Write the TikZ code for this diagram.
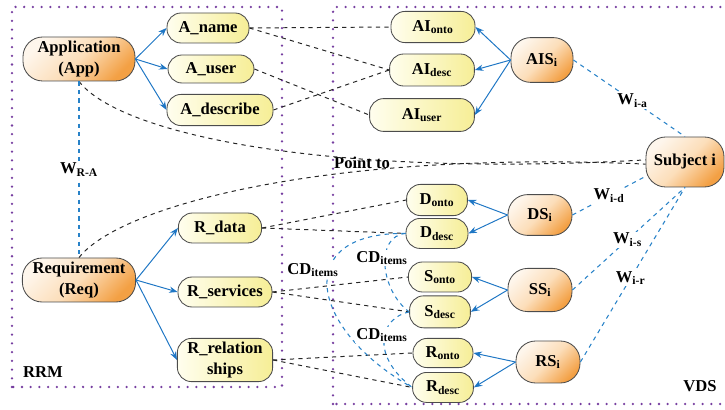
\documentclass[tikz,border=0pt]{standalone}
\usepackage{fontspec}
\setmainfont{Liberation Serif}
\usepackage{xcolor}
\usepackage{tikz}
\usetikzlibrary{positioning, arrows.meta}

\definecolor{orLight}{RGB}{254,246,236}
\definecolor{orMid}{RGB}{252,222,186}
\definecolor{orDark}{RGB}{243,160,68}
\definecolor{ylLight}{RGB}{255,254,238}
\definecolor{ylDark}{RGB}{246,238,150}
\definecolor{arrowBlue}{RGB}{30,118,196}
\definecolor{linkBlue}{RGB}{40,130,200}
\definecolor{dotPurple}{RGB}{118,62,160}

\begin{document}
\begin{tikzpicture}[
  font=\bfseries\fontsize{11.8}{15.5}\selectfont,
  base/.style={draw=black!70, line width=0.6pt, align=center, inner sep=1pt},
  orbox/.style={base, rounded corners=14pt, top color=orLight, bottom color=orDark, middle color=orMid, shading angle=45},
  ylbox/.style={base, rounded corners=10pt, left color=ylLight, right color=ylDark, minimum height=0.75cm},
  arrow/.style={-{Stealth[length=6pt]}, draw=arrowBlue, line width=0.7pt},
  link/.style={dashed, line width=0.7pt, black!85},
  wlink/.style={dashed, line width=0.75pt, linkBlue},
  lbl/.style={fill=white, inner sep=1pt, text=black},
  area/.style={draw=dotPurple, line width=1.8pt, line cap=round, dash pattern=on 0pt off 6.2pt}
]
\useasboundingbox (0,0) rectangle (18.125,10.25);
\draw[area] (0.3,0.575) rectangle (7.05,10.075);
\draw[area] (8.325,0.15) rectangle (18.6,10.075);
\node (rrm) at (1.075,0.95) {RRM};
\node (vds) at (17.5,0.6) {VDS};

% RRM side
\node[orbox, minimum width=2.8cm, minimum height=1.1cm] (app) at (1.975,8.775) {Application\\(App)};
\node[orbox, minimum width=2.83cm, minimum height=1.1cm] (req) at (1.975,3.25) {Requirement\\(Req)};
\node[ylbox, minimum width=2.05cm] (aname) at (5.2,9.55) {A\_name};
\node[ylbox, minimum width=2.15cm, minimum height=0.7cm] (auser) at (5.275,8.525) {A\_user};
\node[ylbox, minimum width=2.65cm, minimum height=0.78cm] (adesc) at (5.5,7.5) {A\_describe};
\node[ylbox, minimum width=2.08cm] (rdata) at (5.5,4.55) {R\_data};
\node[ylbox, minimum width=2.35cm] (rserv) at (5.625,2.95) {R\_services};
\node[ylbox, minimum width=2.38cm, minimum height=1.08cm] (rrel) at (5.625,1.25) {R\_relation\\ships};

% VDS side
\node[ylbox, minimum width=2.1cm, minimum height=0.78cm] (aionto) at (10.825,9.575) {AI\textsubscript{onto}};
\node[ylbox, minimum width=2.12cm, minimum height=0.8cm] (aidesc) at (10.8,8.5) {AI\textsubscript{desc}};
\node[ylbox, minimum width=2.62cm, minimum height=0.82cm] (aiuser) at (10.55,7.375) {AI\textsubscript{user}};
\node[ylbox, minimum width=1.52cm, minimum height=0.78cm] (donto) at (10.925,5.25) {D\textsubscript{onto}};
\node[ylbox, minimum width=1.55cm, below=0.05cm of donto] (ddesc) {D\textsubscript{desc}};
\node[ylbox, minimum width=1.58cm] (sonto) at (11.0,3.325) {S\textsubscript{onto}};
\node[ylbox, minimum width=1.52cm, minimum height=0.8cm, below=0.075cm of sonto] (sdesc) {S\textsubscript{desc}};
\node[ylbox, minimum width=1.5cm, minimum height=0.73cm] (ronto) at (11.075,1.425) {R\textsubscript{onto}};
\node[ylbox, minimum width=1.52cm, below=0.1cm of ronto] (rdesc) {R\textsubscript{desc}};
\node[orbox, minimum width=1.55cm, minimum height=1.12cm] (ais) at (13.55,8.75) {AIS\textsubscript{i}};
\node[orbox, minimum width=1.6cm, minimum height=1.02cm] (ds) at (13.5,4.875) {DS\textsubscript{i}};
\node[orbox, minimum width=1.6cm, minimum height=1.08cm] (ss) at (13.5,3.0) {SS\textsubscript{i}};
\node[orbox, minimum width=1.6cm, minimum height=1.05cm] (rs) at (13.7,1.2) {RS\textsubscript{i}};
\node[orbox, minimum width=1.95cm, minimum height=1.25cm] (subj) at (17.125,6.2) {Subject i};

% blue arrows
\draw[arrow] (app.east) -- (aname.west);
\draw[arrow] (app.east) -- (auser.west);
\draw[arrow] (app.east) -- (adesc.west);
\draw[arrow] (req.east) -- (rdata.west);
\draw[arrow] (req.east) -- (rserv.west);
\draw[arrow] (req.east) -- (rrel.west);
\draw[arrow] (ais.west) -- (aionto.east);
\draw[arrow] (ais.west) -- (aidesc.east);
\draw[arrow] (ais.west) -- (aiuser.east);
\draw[arrow] (ds.west) -- (donto.east);
\draw[arrow] (ds.west) -- (ddesc.east);
\draw[arrow] (ss.west) -- (sonto.east);
\draw[arrow] (ss.west) -- (sdesc.east);
\draw[arrow] (rs.west) -- (ronto.east);
\draw[arrow] (rs.west) -- (rdesc.east);

% dashed links
\draw[link] (aname.east) -- (aionto.west);
\draw[link] (aname.east) -- (aidesc.west);
\draw[link] (auser.east) -- (aiuser.west);
\draw[link] (adesc.east) -- (aidesc.west);
\draw[link] (rdata.east) -- (donto.west);
\draw[link] (rdata.east) -- (ddesc.west);
\draw[link] (rserv.east) -- (sonto.west);
\draw[link] (rserv.east) -- (sdesc.west);
\draw[link] (rrel.east) -- (ronto.west);
\draw[link] (rrel.east) -- (rdesc.west);
\draw[link] (app.south) .. controls (3.0,6.875) and (8.25,5.8) .. ([yshift=1.5pt]subj.west);
\draw[link] (req.north) .. controls (3.0,5.125) and (8.25,6.5) .. ([yshift=-1.5pt]subj.west);
\node (point) at (9.05,6.175) {Point to};

% weights
\draw[wlink] (app.south) -- node[lbl] (wra) {W\textsubscript{R-A}} (req.north);
\draw[wlink] (ais.east) -- node[lbl, pos=0.53] (wia) {W\textsubscript{i-a}} (subj.north);
\draw[wlink] (ds.east) -- node[lbl, pos=0.5] (wid) {W\textsubscript{i-d}} (subj.200);
\draw[wlink] (ss.east) -- node[lbl, pos=0.49] (wis) {W\textsubscript{i-s}} (subj.south);
\draw[wlink] (rs.east) -- node[lbl, pos=0.48] (wir) {W\textsubscript{i-r}} (subj.south);

% CD items
\draw[wlink] (ddesc.west) .. controls (7.25,4.45) and (7.75,2.0) .. (rdesc.west);
\draw[wlink] (ddesc.west) .. controls (9.375,4.35) and (9.5,3.0) .. (sdesc.west);
\draw[wlink] (sdesc.west) .. controls (9.5,2.3) and (9.25,1.375) .. (rdesc.west);
\node[lbl] (cda) at (7.825,3.5) {CD\textsubscript{items}};
\node[lbl] (cdb) at (9.55,3.8) {CD\textsubscript{items}};
\node[lbl] (cdc) at (9.55,1.875) {CD\textsubscript{items}};
\end{tikzpicture}
\end{document}
